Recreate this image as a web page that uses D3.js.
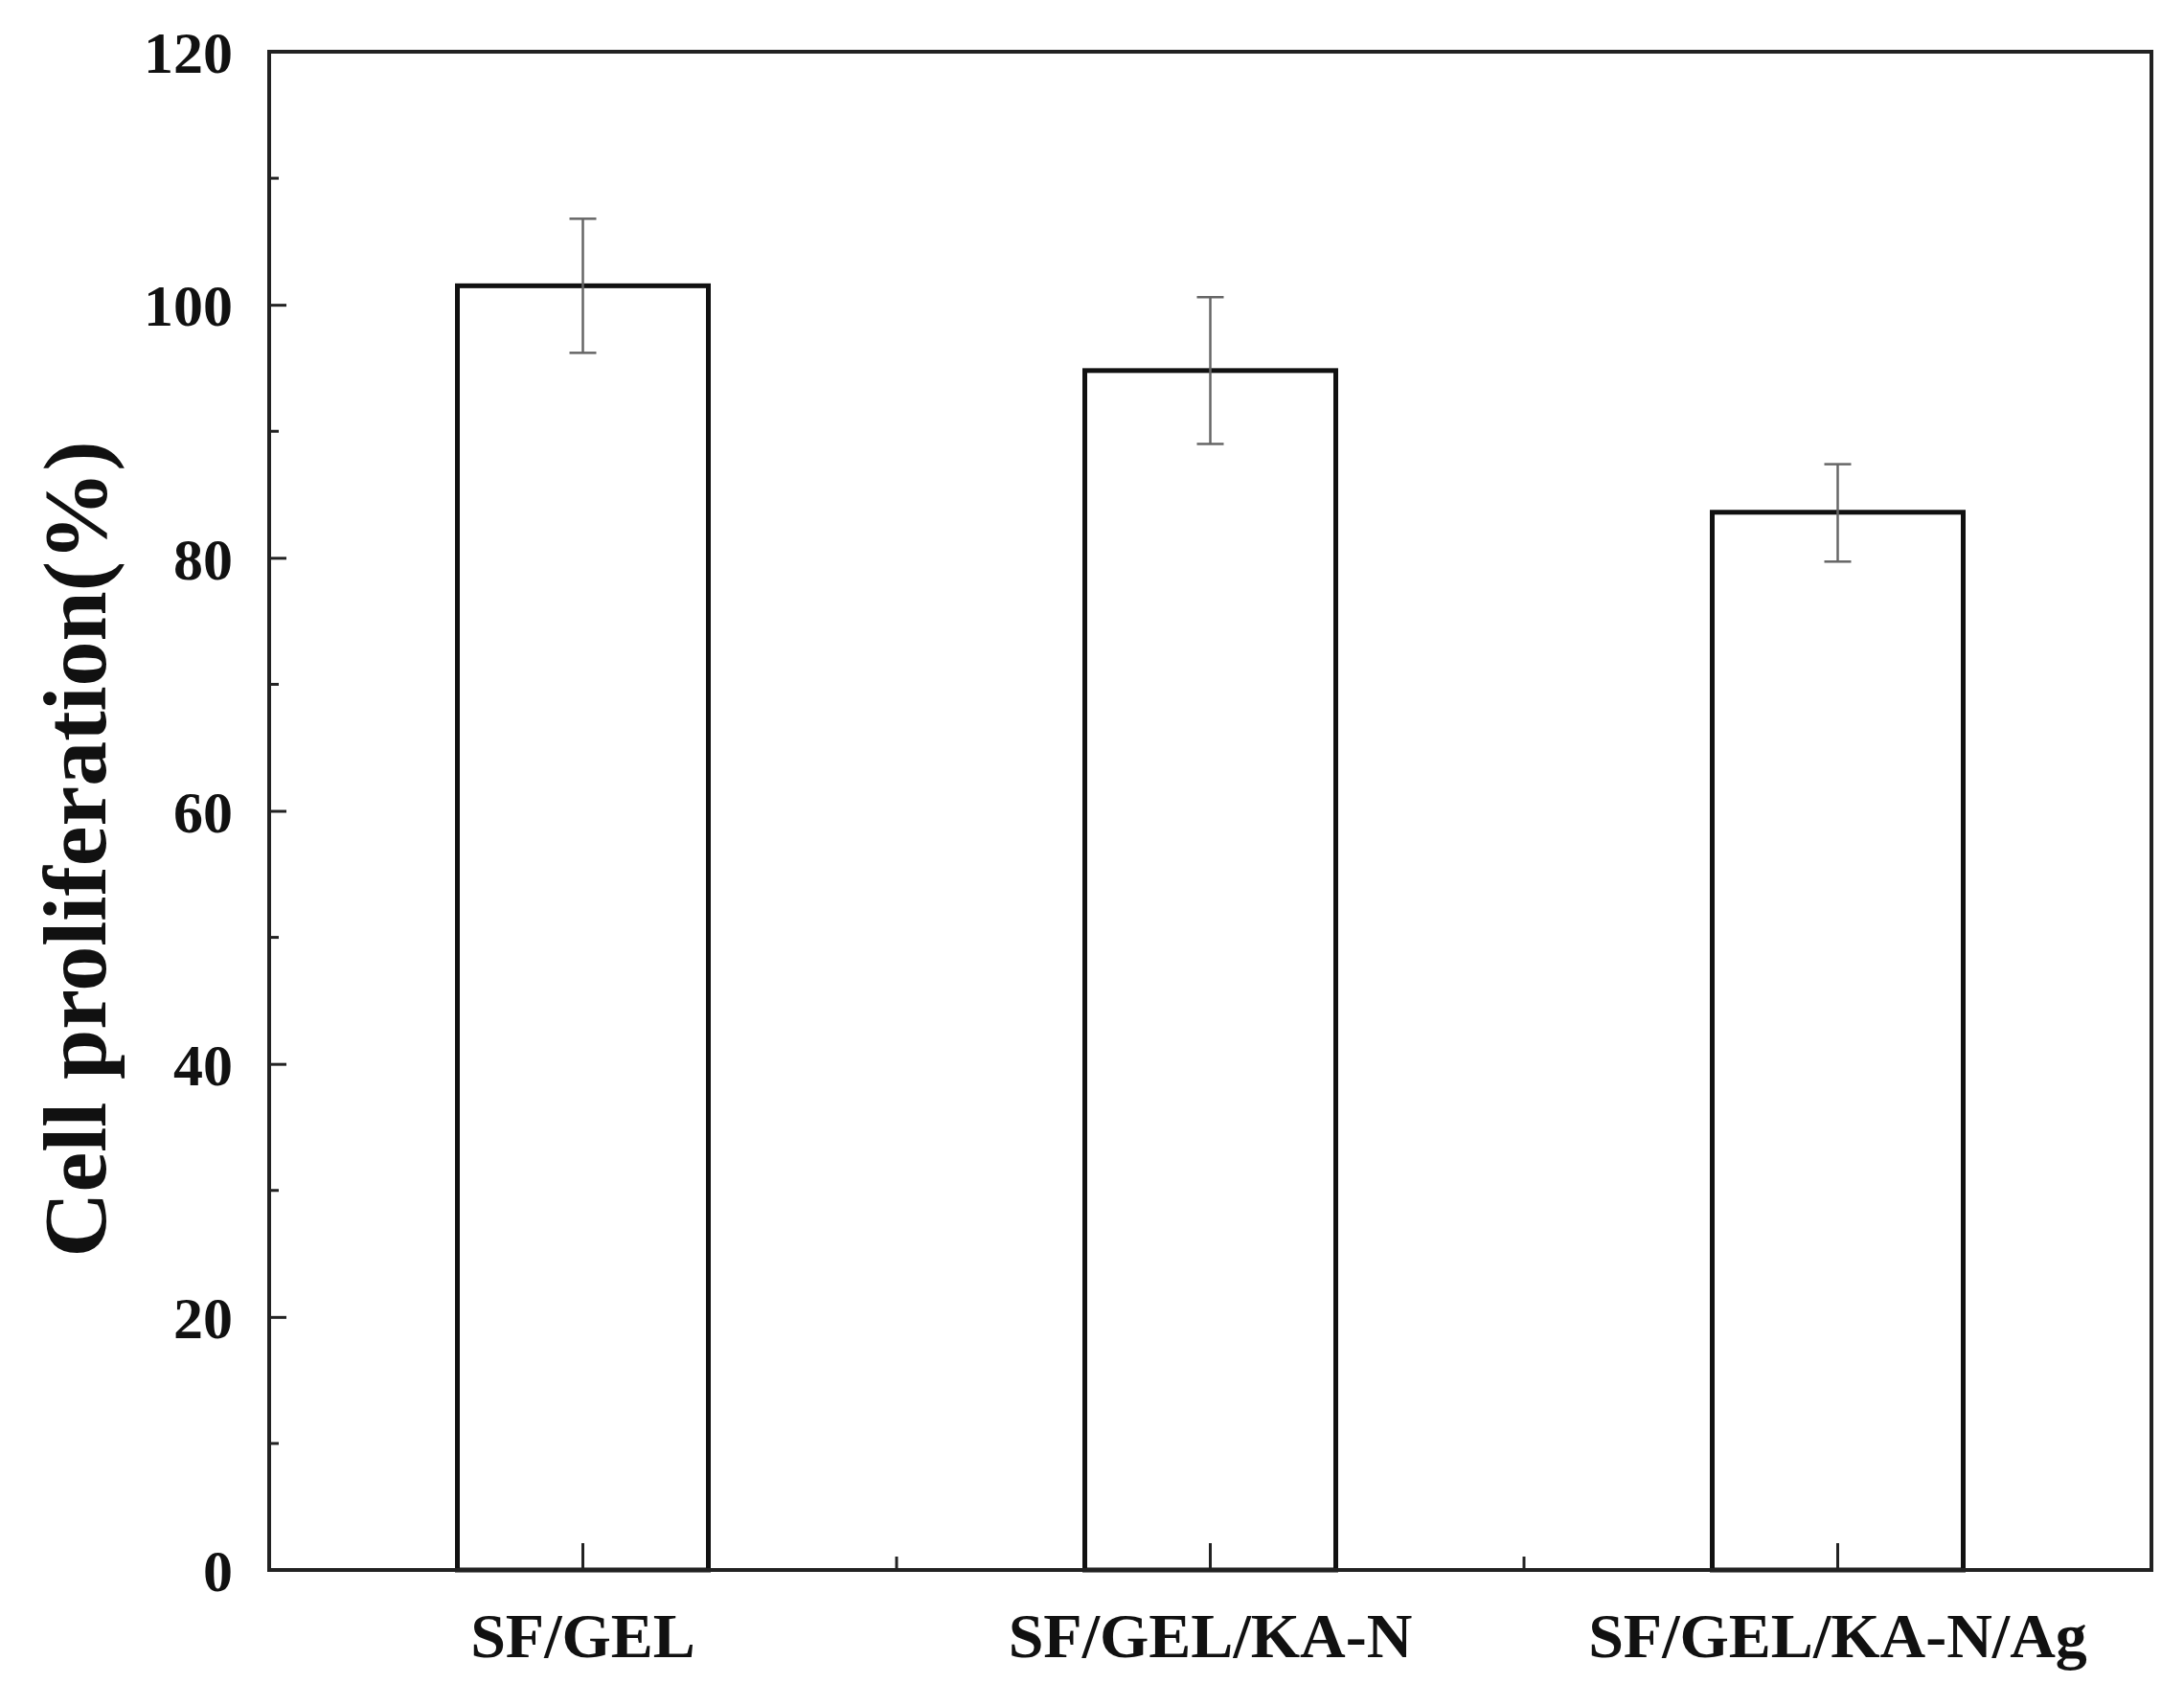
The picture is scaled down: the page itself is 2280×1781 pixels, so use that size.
<!DOCTYPE html>
<html>
<head>
<meta charset="utf-8">
<script src="https://cdn.jsdelivr.net/npm/d3@7"></script>
<style>
  body { margin: 0; background: #fff; }
  text { font-family: "Liberation Serif", "Times New Roman", serif; font-weight: bold; fill: #111; }
</style>
</head>
<body>
<div id="chart"></div>
<script>
const categories = ['SF/GEL', 'SF/GEL/KA-N', 'SF/GEL/KA-N/Ag'];
const values = [101.5, 94.8, 83.6];
const errLow = [96.2, 89.0, 79.7];
const errHigh = [106.8, 100.6, 87.4];
const yTicks = [0, 20, 40, 60, 80, 100, 120];
const yMinorTicks = [10, 30, 50, 70, 90, 110];

const W = 2280, H = 1781;
const margin = { top: 54, right: 34, bottom: 142, left: 281 };
const width = W - margin.left - margin.right;
const height = H - margin.top - margin.bottom;

const svg = d3.select('#chart').append('svg')
    .attr('width', W).attr('height', H);
const g = svg.append('g')
    .attr('transform', 'translate(' + margin.left + ',' + margin.top + ')');

const x = d3.scaleBand().domain(categories).range([0, width])
    .paddingInner(0.6).paddingOuter(0.3);
const y = d3.scaleLinear().domain([0, 120]).range([height, 0]);

// bars
g.selectAll('.bar').data(values).enter().append('rect')
    .attr('x', (d, i) => x(categories[i]))
    .attr('y', d => y(d))
    .attr('width', x.bandwidth())
    .attr('height', d => height - y(d))
    .attr('fill', 'none').attr('stroke', '#111').attr('stroke-width', 5);

// error bars
const capW = 14;
categories.forEach((c, i) => {
    const cx = x(c) + x.bandwidth() / 2;
    const eg = g.append('g').attr('stroke', '#666').attr('stroke-width', 2.5);
    eg.append('line').attr('x1', cx).attr('x2', cx).attr('y1', y(errLow[i])).attr('y2', y(errHigh[i]));
    eg.append('line').attr('x1', cx - capW).attr('x2', cx + capW).attr('y1', y(errLow[i])).attr('y2', y(errLow[i]));
    eg.append('line').attr('x1', cx - capW).attr('x2', cx + capW).attr('y1', y(errHigh[i])).attr('y2', y(errHigh[i]));
});

// y axis
const yAxis = d3.axisLeft(y).tickValues(yTicks).tickSize(-18).tickPadding(38);
const ya = g.append('g').call(yAxis);
ya.select('.domain').remove();
ya.selectAll('.tick line').attr('stroke', '#222').attr('stroke-width', 3);
ya.selectAll('.tick text').style('font-size', '62px').attr('dy', '0.35em');
g.selectAll('.yminor').data(yMinorTicks).enter().append('line')
    .attr('x1', 0).attr('x2', 10).attr('y1', d => y(d)).attr('y2', d => y(d))
    .attr('stroke', '#222').attr('stroke-width', 3);

// x axis
const xAxis = d3.axisBottom(x).tickSize(-28).tickPadding(44);
const xa = g.append('g').attr('transform', 'translate(0,' + height + ')').call(xAxis);
xa.select('.domain').remove();
xa.selectAll('.tick line').attr('stroke', '#222').attr('stroke-width', 3);
xa.selectAll('.tick text').style('font-size', '66px');
const bounds = categories.slice(1).map(c => x(c) - x.step() * x.paddingInner() / 2);
g.selectAll('.xminor').data(bounds).enter().append('line')
    .attr('x1', d => d).attr('x2', d => d).attr('y1', height).attr('y2', height - 14)
    .attr('stroke', '#222').attr('stroke-width', 3);

// frame
g.append('rect').attr('width', width).attr('height', height)
    .attr('fill', 'none').attr('stroke', '#222').attr('stroke-width', 4);

// y label
svg.append('text')
    .attr('transform', 'translate(110,' + (margin.top + height / 2 + 40) + ') rotate(-90)')
    .style('text-anchor', 'middle').style('font-size', '94px')
    .text('Cell proliferation(%)');
</script>
</body>
</html>
